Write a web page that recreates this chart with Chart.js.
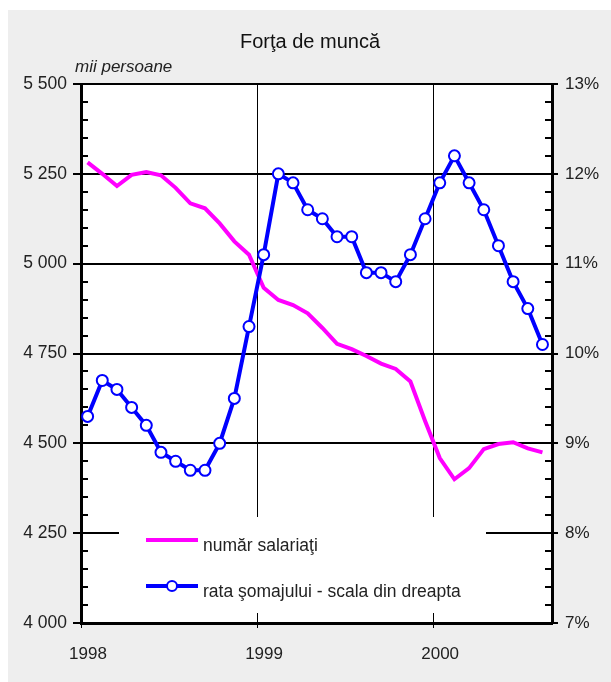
<!DOCTYPE html>
<html>
<head>
<meta charset="utf-8">
<script src="https://cdn.jsdelivr.net/npm/chart.js@4/dist/chart.umd.min.js"></script>
<style>
html,body{margin:0;padding:0;background:#fff;}
#wrap{width:611px;height:682px;position:relative;}
</style>
</head>
<body>
<div id="wrap"><canvas id="c" width="611" height="682"></canvas></div>
<script>
// ---- data ----
const months = ['1998-01','1998-02','1998-03','1998-04','1998-05','1998-06','1998-07','1998-08','1998-09','1998-10','1998-11','1998-12',
                '1999-01','1999-02','1999-03','1999-04','1999-05','1999-06','1999-07','1999-08','1999-09','1999-10','1999-11','1999-12',
                '2000-01','2000-02','2000-03','2000-04','2000-05','2000-06','2000-07','2000-08'];
const employees = [5282, 5250, 5216, 5247, 5255, 5246, 5211, 5168, 5154, 5112, 5062, 5025,
                   4933, 4899, 4885, 4862, 4821, 4777, 4762, 4743, 4722, 4707, 4672, 4562,
                   4459, 4400, 4431, 4484, 4498, 4503, 4486, 4475];
const unemployment = [9.3, 9.7, 9.6, 9.4, 9.2, 8.9, 8.8, 8.7, 8.7, 9.0, 9.5, 10.3,
                      11.1, 12.0, 11.9, 11.6, 11.5, 11.3, 11.3, 10.9, 10.9, 10.8, 11.1, 11.5,
                      11.9, 12.2, 11.9, 11.6, 11.2, 10.8, 10.5, 10.1];
const yearLabels = ['1998', '1999', '2000'];
const leftTicks = [4000, 4250, 4500, 4750, 5000, 5250, 5500];
const rightTicks = [7, 8, 9, 10, 11, 12, 13];
const titleText = 'Forţa de muncă';
const unitText = 'mii persoane';
const seriesNames = ['număr salariaţi', 'rata şomajului - scala din dreapta'];

// ---- styling ----
const FONT = '"Liberation Sans", Arial, sans-serif';
const MID = 0.45; // points sit mid-month
const toXY = (arr) => arr.map((v, i) => ({x: i + MID, y: v}));

const fmtThousands = (v) => {
  const s = String(v);
  return s.length > 3 ? s.slice(0, s.length - 3) + ' ' + s.slice(-3) : s;
};

const decorPlugin = {
  id: 'decor',
  beforeDraw(chart) {
    const ctx = chart.ctx, a = chart.chartArea;
    ctx.save();
    ctx.fillStyle = '#ffffff';
    ctx.fillRect(0, 0, chart.width, chart.height);
    ctx.fillStyle = '#eeeeee';
    ctx.fillRect(8, 10, chart.width - 8, chart.height - 10);
    ctx.fillStyle = '#ffffff';
    ctx.fillRect(a.left, a.top, a.right - a.left, a.bottom - a.top);
    ctx.restore();
  },
  beforeDatasetsDraw(chart) {
    const ctx = chart.ctx, a = chart.chartArea;
    const yl = chart.scales.y, yr = chart.scales.y1;
    ctx.save();
    // minor ticks
    ctx.strokeStyle = '#000';
    ctx.lineWidth = 2;
    for (let v = 4000; v <= 5500; v += 50) {
      if (v % 250 === 0) continue;
      const py = Math.round(yl.getPixelForValue(v));
      ctx.beginPath(); ctx.moveTo(a.left, py); ctx.lineTo(a.left + 7, py); ctx.stroke();
    }
    for (let k = 70; k <= 130; k += 2) {
      if (k % 10 === 0) continue;
      const py = Math.round(yr.getPixelForValue(k / 10));
      ctx.beginPath(); ctx.moveTo(a.right - 7, py); ctx.lineTo(a.right, py); ctx.stroke();
    }
    // legend box
    const bx = 119, by = 517, bw = 367, bh = 96;
    ctx.fillStyle = '#ffffff';
    ctx.fillRect(bx, by, bw, bh);
    ctx.lineCap = 'butt';
    ctx.strokeStyle = '#ff00ff';
    ctx.lineWidth = 4;
    ctx.beginPath(); ctx.moveTo(146, 540); ctx.lineTo(198, 540); ctx.stroke();
    ctx.strokeStyle = '#0000ff';
    ctx.beginPath(); ctx.moveTo(146, 586); ctx.lineTo(198, 586); ctx.stroke();
    ctx.fillStyle = '#ffffff';
    ctx.lineWidth = 2;
    ctx.beginPath(); ctx.arc(172, 586, 5, 0, Math.PI * 2); ctx.fill(); ctx.stroke();
    ctx.fillStyle = '#222';
    ctx.font = '17.5px ' + FONT;
    ctx.textAlign = 'left';
    ctx.textBaseline = 'alphabetic';
    ctx.fillText(seriesNames[0], 203, 551);
    ctx.fillText(seriesNames[1], 203, 597);
    ctx.restore();
  },
  afterDraw(chart) {
    const ctx = chart.ctx;
    ctx.save();
    ctx.fillStyle = '#111';
    ctx.textAlign = 'center';
    ctx.textBaseline = 'alphabetic';
    ctx.font = '20px ' + FONT;
    ctx.fillText(titleText, 310, 48);
    ctx.textAlign = 'left';
    ctx.font = 'italic 17px ' + FONT;
    ctx.fillStyle = '#222';
    ctx.fillText(unitText, 75, 72);
    ctx.restore();
  }
};

new Chart(document.getElementById('c'), {
  type: 'line',
  data: {
    datasets: [
      {
        label: seriesNames[1],
        data: toXY(unemployment),
        yAxisID: 'y1',
        borderColor: '#0000ff',
        borderWidth: 4,
        pointRadius: 5.5,
        pointBorderWidth: 2,
        pointBackgroundColor: '#ffffff',
        pointBorderColor: '#0000ff',
        tension: 0,
        order: 0
      },
      {
        label: seriesNames[0],
        data: toXY(employees),
        yAxisID: 'y',
        borderColor: '#ff00ff',
        borderWidth: 4,
        pointRadius: 0,
        tension: 0,
        order: 1
      }
    ]
  },
  options: {
    responsive: false,
    animation: false,
    events: [],
    layout: {padding: {top: 84, left: 0, right: 0, bottom: 0}},
    plugins: {legend: {display: false}, tooltip: {enabled: false}, title: {display: false}},
    scales: {
      x: {
        type: 'linear',
        min: 0,
        max: 32.1,
        afterBuildTicks: (s) => { s.ticks = [{value: 0}, {value: 12}, {value: 24}]; },
        afterFit: (s) => { s.height = 59; },
        ticks: {
          callback: (v, i) => yearLabels[i],
          labelOffset: 7,
          padding: 16,
          color: '#222',
          font: {family: FONT, size: 17},
          maxRotation: 0,
          autoSkip: false
        },
        grid: {color: '#000', lineWidth: 1, tickLength: 5, drawOnChartArea: true},
        border: {display: true, color: '#000', width: 3}
      },
      y: {
        position: 'left',
        min: 4000,
        max: 5500,
        afterBuildTicks: (s) => { s.ticks = leftTicks.map(v => ({value: v})); },
        afterFit: (s) => { s.width = 81; },
        ticks: {
          callback: (v) => fmtThousands(v),
          padding: 6,
          color: '#222',
          font: {family: FONT, size: 17.5}
        },
        grid: {color: '#000', lineWidth: 2, tickLength: 8},
        border: {display: true, color: '#000', width: 3}
      },
      y1: {
        position: 'right',
        min: 7,
        max: 13,
        afterBuildTicks: (s) => { s.ticks = rightTicks.map(v => ({value: v})); },
        afterFit: (s) => { s.width = 59; },
        ticks: {
          callback: (v) => v + '%',
          padding: 7,
          color: '#222',
          font: {family: FONT, size: 17}
        },
        grid: {color: '#000', lineWidth: 2, tickLength: 6, drawOnChartArea: false},
        border: {display: true, color: '#000', width: 3}
      }
    }
  },
  plugins: [decorPlugin]
});
</script>
</body>
</html>
